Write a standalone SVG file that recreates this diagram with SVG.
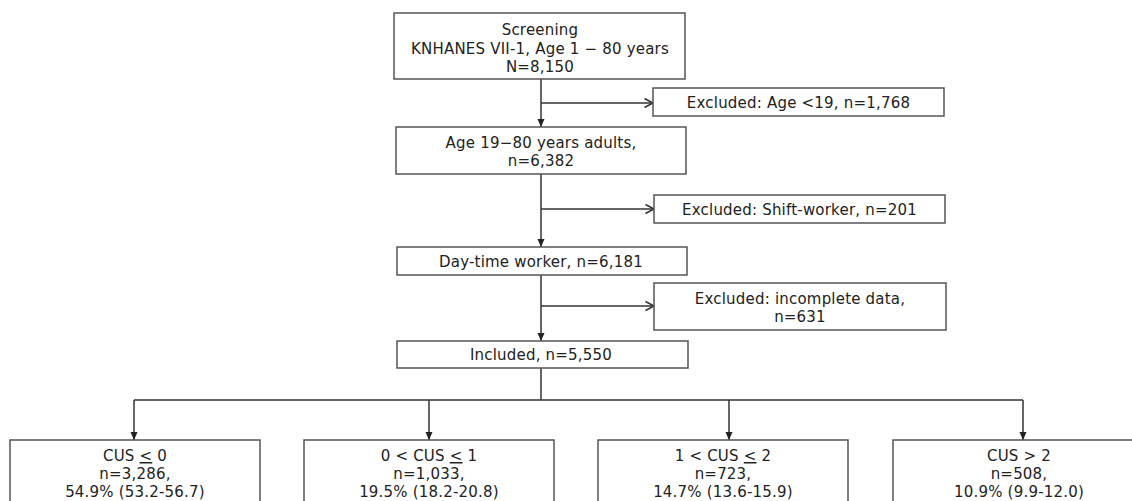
<svg xmlns="http://www.w3.org/2000/svg" width="1132" height="501" viewBox="0 0 1132 501">
<style>
  .box { fill: #ffffff; stroke: #555555; stroke-width: 1.5; }
  .t { font-family: "DejaVu Sans", Verdana, sans-serif; font-size: 15px; fill: #222222; text-anchor: middle; letter-spacing: 0.2px; }
  .ln { fill: none; stroke: #333333; stroke-width: 1.5; }
  .fa { marker-end: url(#filled); }
  .oa { marker-end: url(#open); }
</style>
<defs>
  <marker id="filled" markerWidth="10" markerHeight="10" refX="9" refY="5" orient="auto" markerUnits="userSpaceOnUse">
    <path d="M1,1.5 L9,5 L1,8.5 Z" fill="#222222"/>
  </marker>
  <marker id="open" markerWidth="12" markerHeight="12" refX="10.5" refY="6" orient="auto" markerUnits="userSpaceOnUse">
    <path d="M2,1.5 L10.5,6 L2,10.5" fill="none" stroke="#333333" stroke-width="1.5"/>
  </marker>
</defs>
<rect width="1132" height="501" fill="#ffffff"/>
<g id="connectors">
  <line class="ln fa" x1="541" y1="79" x2="541" y2="127"/>
  <line class="ln oa" x1="541" y1="103" x2="653" y2="103"/>
  <line class="ln fa" x1="541" y1="174" x2="541" y2="247"/>
  <line class="ln oa" x1="541" y1="209" x2="654" y2="209"/>
  <line class="ln fa" x1="541" y1="275" x2="541" y2="341"/>
  <line class="ln oa" x1="541" y1="306" x2="654" y2="306"/>
  <line class="ln" x1="541" y1="368" x2="541" y2="400"/>
  <line class="ln" x1="134" y1="400" x2="1023" y2="400"/>
  <line class="ln fa" x1="134" y1="400" x2="134" y2="440"/>
  <line class="ln fa" x1="429" y1="400" x2="429" y2="440"/>
  <line class="ln fa" x1="729" y1="400" x2="729" y2="440"/>
  <line class="ln fa" x1="1023" y1="400" x2="1023" y2="440"/>
</g>
<g id="screening">
  <rect class="box" x="394" y="13" width="291" height="66"/>
  <text class="t" x="540" y="35">Screening</text>
  <text class="t" x="540" y="53.5">KNHANES VII-1, Age 1 − 80 years</text>
  <text class="t" x="540" y="72">N=8,150</text>
</g>
<g id="excl-age">
  <rect class="box" x="653" y="88" width="291" height="28"/>
  <text class="t" x="798.5" y="107.5">Excluded: Age &lt;19, n=1,768</text>
</g>
<g id="adults">
  <rect class="box" x="396" y="127" width="290" height="47"/>
  <text class="t" x="541" y="148">Age 19−80 years adults,</text>
  <text class="t" x="541" y="166">n=6,382</text>
</g>
<g id="excl-shift">
  <rect class="box" x="654" y="195" width="291" height="28"/>
  <text class="t" x="799.5" y="214.5">Excluded: Shift-worker, n=201</text>
</g>
<g id="daytime">
  <rect class="box" x="397" y="247" width="290" height="28"/>
  <text class="t" x="541" y="266.5">Day-time worker, n=6,181</text>
</g>
<g id="excl-incomplete">
  <rect class="box" x="654" y="283" width="292" height="47"/>
  <text class="t" x="800" y="303.5">Excluded: incomplete data,</text>
  <text class="t" x="800" y="322">n=631</text>
</g>
<g id="included">
  <rect class="box" x="397" y="341" width="291" height="27"/>
  <text class="t" x="541" y="360">Included, n=5,550</text>
</g>
<g id="cus0">
  <rect class="box" x="10" y="440" width="250" height="80"/>
  <text class="t" x="135" y="461">CUS <tspan text-decoration="underline">&lt;</tspan> 0</text>
  <text class="t" x="135" y="479">n=3,286,</text>
  <text class="t" x="135" y="497">54.9% (53.2-56.7)</text>
</g>
<g id="cus1">
  <rect class="box" x="304" y="440" width="250" height="80"/>
  <text class="t" x="429" y="461">0 &lt; CUS <tspan text-decoration="underline">&lt;</tspan> 1</text>
  <text class="t" x="429" y="479">n=1,033,</text>
  <text class="t" x="429" y="497">19.5% (18.2-20.8)</text>
</g>
<g id="cus2">
  <rect class="box" x="598" y="440" width="250" height="80"/>
  <text class="t" x="723" y="461">1 &lt; CUS <tspan text-decoration="underline">&lt;</tspan> 2</text>
  <text class="t" x="723" y="479">n=723,</text>
  <text class="t" x="723" y="497">14.7% (13.6-15.9)</text>
</g>
<g id="cus3">
  <rect class="box" x="893" y="440" width="252" height="80"/>
  <text class="t" x="1019" y="461">CUS &gt; 2</text>
  <text class="t" x="1019" y="479">n=508,</text>
  <text class="t" x="1019" y="497">10.9% (9.9-12.0)</text>
</g>
</svg>
